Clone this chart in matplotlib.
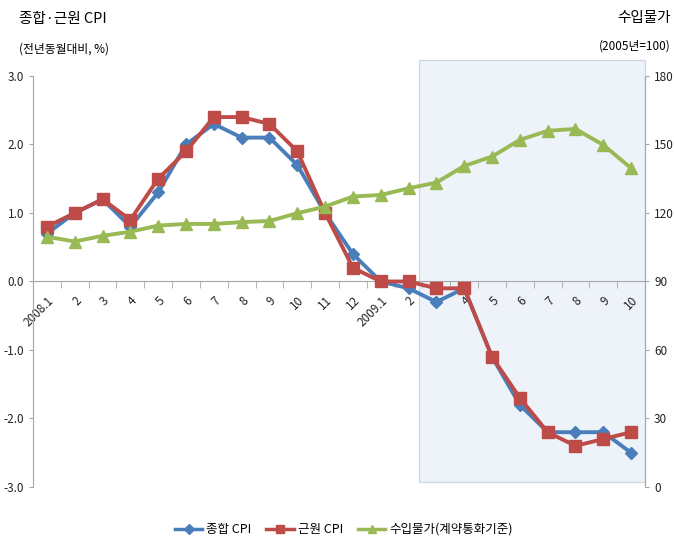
import matplotlib
matplotlib.use("Agg")
import matplotlib.pyplot as plt
from matplotlib.patches import Rectangle
from matplotlib.lines import Line2D

plt.rcParams['font.family'] = ['Noto Sans CJK KR', 'DejaVu Sans']

months = ["2008.1", "2", "3", "4", "5", "6", "7", "8", "9", "10", "11", "12",
          "2009.1", "2", "3", "4", "5", "6", "7", "8", "9", "10"]
headline_cpi = [0.7, 1.0, 1.2, 0.8, 1.3, 2.0, 2.3, 2.1, 2.1, 1.7, 1.0, 0.4,
                0.0, -0.1, -0.3, -0.1, -1.1, -1.8, -2.2, -2.2, -2.2, -2.5]
core_cpi = [0.8, 1.0, 1.2, 0.9, 1.5, 1.9, 2.4, 2.4, 2.3, 1.9, 1.0, 0.2,
            0.0, 0.0, -0.1, -0.1, -1.1, -1.7, -2.2, -2.4, -2.3, -2.2]
import_prices = [109.6, 107.5, 110.0, 111.8, 114.5, 115.2, 115.2, 116.0, 116.5, 119.9, 122.8, 127.2,
                 127.9, 130.8, 133.3, 140.6, 144.7, 152.0, 156.0, 156.8, 149.8, 139.6]
left_ticks = [-3.0, -2.0, -1.0, 0.0, 1.0, 2.0, 3.0]
right_ticks = [0, 30, 60, 90, 120, 150, 180]

BLUE = "#4A7EBB"
RED = "#BE4B48"
GREEN = "#98B954"
AXIS = "#A6A6A6"

fig = plt.figure(figsize=(6.74, 5.47), dpi=100)
ax = fig.add_axes([0.049, 0.1097, 0.908, 0.7514])
ax2 = ax.twinx()

x = list(range(len(months)))

# highlighted period box (behind the data)
shade = Rectangle((13.37, -2.93), 21.5 - 13.37, 3.23 + 2.93,
                  facecolor="#EEF2F9", edgecolor="#CDD6E4", linewidth=0.9,
                  zorder=0, clip_on=False)
ax.add_patch(shade)

ax.plot(x, headline_cpi, color=BLUE, lw=2.8, marker="D", markersize=6,
        zorder=3, label="종합 CPI")
ax.plot(x, core_cpi, color=RED, lw=2.8, marker="s", markersize=8,
        zorder=4, label="근원 CPI")
ax2.plot(x, import_prices, color=GREEN, lw=2.8, marker="^", markersize=9,
         zorder=3, label="수입물가(계약통화기준)")

ax.set_xlim(-0.5, len(months) - 0.5)
ax.set_ylim(-3.0, 3.0)
ax2.set_ylim(0, 180)
ax.set_yticks(left_ticks)
ax.set_yticklabels([f"{v:.1f}" for v in left_ticks])
ax2.set_yticks(right_ticks)
ax2.set_yticklabels([str(v) for v in right_ticks])

ax.set_facecolor("none")
ax2.set_facecolor("none")
ax.set_zorder(1)
ax2.set_zorder(2)

for a in (ax, ax2):
    a.spines['top'].set_visible(False)
ax.spines['right'].set_visible(False)
ax2.spines['left'].set_visible(False)
ax2.spines['bottom'].set_visible(False)
ax.spines['left'].set_color(AXIS)
ax2.spines['right'].set_color(AXIS)
ax.spines['bottom'].set_position(('data', 0))
ax.spines['bottom'].set_color(AXIS)

ax.set_xticks(x)
ax.set_xticklabels(months, rotation=45, ha='right', va='top',
                   rotation_mode='anchor', fontsize=8.5, color="#222222")
ax.set_xticks([i + 0.5 for i in range(-1, len(months))], minor=True)
ax.tick_params(axis='x', which='major', length=0, pad=9)
ax.tick_params(axis='x', which='minor', length=5, color=AXIS, direction='out')
ax.tick_params(axis='y', length=3, color=AXIS, labelsize=8.5, labelcolor="#222222")
ax2.tick_params(axis='y', length=3, color=AXIS, labelsize=8.5, labelcolor="#222222")

fig.text(0.028, 0.965, "종합·근원 CPI", fontsize=10.5, ha='left', va='center')
fig.text(0.028, 0.91, "(전년동월대비, %)", fontsize=8.5, ha='left', va='center')
fig.text(0.955, 0.967, "수입물가", fontsize=10.5, ha='center', va='center')
fig.text(0.942, 0.915, "(2005년=100)", fontsize=8.5, ha='center', va='center')

handles = [Line2D([], [], color=BLUE, lw=2.5, marker="D", markersize=5),
           Line2D([], [], color=RED, lw=2.5, marker="s", markersize=6),
           Line2D([], [], color=GREEN, lw=2.5, marker="^", markersize=6)]
fig.legend(handles, ["종합 CPI", "근원 CPI", "수입물가(계약통화기준)"],
           loc='center', bbox_to_anchor=(0.51, 0.032), ncol=3, frameon=False,
           fontsize=9, handlelength=2.2, handletextpad=0.3, columnspacing=1.2)

fig.savefig("out.png", dpi=100)
